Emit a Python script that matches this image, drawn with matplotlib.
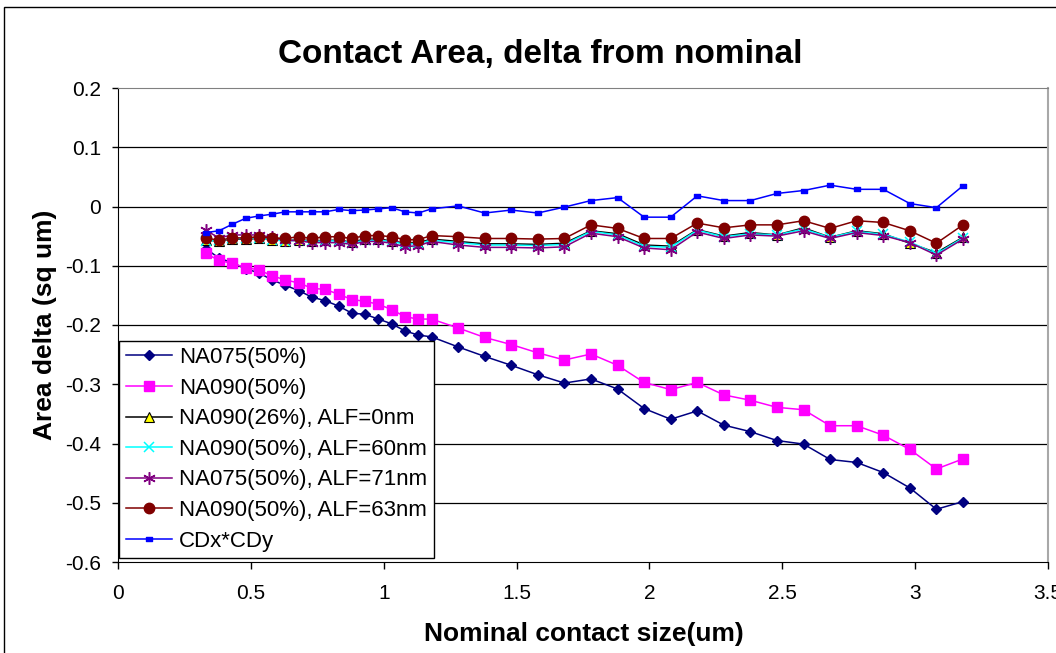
import matplotlib
matplotlib.use("Agg")
import matplotlib.pyplot as plt
from matplotlib.patches import Rectangle
from matplotlib.path import Path

plt.rcParams['font.family'] = ['Liberation Sans', 'DejaVu Sans']
plt.rcParams['axes.unicode_minus'] = False

# ---------------- data ----------------
x_size = [0.33, 0.38, 0.43, 0.48, 0.53, 0.58, 0.63, 0.68, 0.73, 0.78, 0.83, 0.88,
          0.93, 0.98, 1.03, 1.08, 1.13, 1.18, 1.28, 1.38, 1.48, 1.58, 1.68, 1.78,
          1.88, 1.98, 2.08, 2.18, 2.28, 2.38, 2.48, 2.58, 2.68, 2.78, 2.88, 2.98,
          3.08, 3.18]

na075_50 = [-0.071, -0.087, -0.095, -0.105, -0.112, -0.124, -0.133, -0.142, -0.153,
            -0.159, -0.168, -0.180, -0.182, -0.190, -0.198, -0.210, -0.217, -0.220,
            -0.237, -0.253, -0.268, -0.284, -0.298, -0.291, -0.308, -0.341, -0.359,
            -0.345, -0.369, -0.380, -0.395, -0.401, -0.427, -0.432, -0.449, -0.475,
            -0.511, -0.498]

na090_50 = [-0.079, -0.091, -0.096, -0.103, -0.107, -0.117, -0.124, -0.129, -0.138,
            -0.140, -0.148, -0.157, -0.160, -0.165, -0.174, -0.186, -0.190, -0.190,
            -0.205, -0.221, -0.233, -0.247, -0.259, -0.249, -0.268, -0.297, -0.309,
            -0.297, -0.318, -0.327, -0.339, -0.343, -0.370, -0.370, -0.386, -0.410,
            -0.443, -0.426]

na090_26_alf0 = [-0.057, -0.058, -0.055, -0.055, -0.054, -0.056, -0.058, -0.056, -0.058,
                 -0.057, -0.057, -0.060, -0.055, -0.055, -0.058, -0.062, -0.061, -0.055,
                 -0.059, -0.063, -0.063, -0.064, -0.062, -0.041, -0.046, -0.065, -0.067,
                 -0.039, -0.050, -0.044, -0.048, -0.036, -0.052, -0.041, -0.046, -0.062,
                 -0.078, -0.052]

na090_50_alf60 = [-0.059, -0.057, -0.054, -0.054, -0.054, -0.056, -0.058, -0.057, -0.059,
                  -0.058, -0.058, -0.061, -0.057, -0.057, -0.059, -0.064, -0.062, -0.057,
                  -0.061, -0.065, -0.065, -0.066, -0.064, -0.042, -0.048, -0.067, -0.069,
                  -0.040, -0.051, -0.046, -0.048, -0.038, -0.052, -0.042, -0.047, -0.060,
                  -0.080, -0.053]

na075_50_alf71 = [-0.040, -0.053, -0.048, -0.048, -0.048, -0.052, -0.057, -0.058, -0.061,
                  -0.061, -0.061, -0.064, -0.059, -0.059, -0.062, -0.068, -0.066, -0.059,
                  -0.065, -0.069, -0.069, -0.070, -0.068, -0.045, -0.051, -0.070, -0.073,
                  -0.043, -0.054, -0.048, -0.050, -0.041, -0.054, -0.044, -0.049, -0.061,
                  -0.082, -0.055]

na090_50_alf63 = [-0.053, -0.057, -0.053, -0.053, -0.051, -0.053, -0.054, -0.051, -0.054,
                  -0.051, -0.051, -0.054, -0.049, -0.049, -0.051, -0.056, -0.056, -0.049,
                  -0.051, -0.054, -0.054, -0.055, -0.054, -0.031, -0.037, -0.054, -0.054,
                  -0.028, -0.036, -0.031, -0.031, -0.024, -0.037, -0.024, -0.027, -0.041,
                  -0.062, -0.031]

cdx_cdy = [-0.044, -0.041, -0.030, -0.020, -0.016, -0.013, -0.009, -0.009, -0.009,
           -0.009, -0.005, -0.007, -0.006, -0.004, -0.002, -0.009, -0.011, -0.004,
           0.001, -0.011, -0.006, -0.011, -0.001, 0.010, 0.015, -0.018, -0.018,
           0.018, 0.010, 0.010, 0.022, 0.027, 0.036, 0.029, 0.029, 0.005,
           -0.002, 0.035]

series_labels = ['NA075(50%)', 'NA090(50%)', 'NA090(26%), ALF=0nm',
                 'NA090(50%), ALF=60nm', 'NA075(50%), ALF=71nm',
                 'NA090(50%), ALF=63nm', 'CDx*CDy']

x_ticks = [0, 0.5, 1, 1.5, 2, 2.5, 3, 3.5]
x_tick_labels = ['0', '0.5', '1', '1.5', '2', '2.5', '3', '3.5']
y_ticks = [0.2, 0.1, 0, -0.1, -0.2, -0.3, -0.4, -0.5, -0.6]
y_tick_labels = ['0.2', '0.1', '0', '-0.1', '-0.2', '-0.3', '-0.4', '-0.5', '-0.6']

# ---------------- figure ----------------
W, H = 1056, 653
fig = plt.figure(figsize=(W / 100, H / 100), dpi=100)
fig.patch.set_facecolor('white')

# chart-area border (extends past right/bottom edge)
fig.patches.append(Rectangle((4 / W, -0.1), 1.2, 1 - 7 / H + 0.1,
                             transform=fig.transFigure, fill=False,
                             edgecolor='black', lw=1.0))

left, right, top, bottom = 118 / W, 1048 / W, 1 - 88 / H, 1 - 562 / H
ax = fig.add_axes([left, bottom, right - left, top - bottom])

ax.set_xlim(0, 3.5)
ax.set_ylim(-0.6, 0.2)
ax.set_xticks(x_ticks)
ax.set_xticklabels(x_tick_labels)
ax.set_yticks(y_ticks)
ax.set_yticklabels(y_tick_labels)
ax.tick_params(axis='both', direction='out', labelsize=15, color='black', width=1)
ax.tick_params(axis='y', length=4, pad=8)
ax.tick_params(axis='x', length=5, pad=11)

for yv in y_ticks[1:-1]:
    ax.axhline(yv, color='black', lw=0.9, zorder=1)

ax.spines['left'].set_color('black')
ax.spines['bottom'].set_color('black')
ax.spines['top'].set_color('#808080')
ax.spines['right'].set_color('#A8A8A8')
ax.spines['right'].set_linewidth(1.5)

dash = Path([(-1, -0.45), (1, -0.45), (1, 0.45), (-1, 0.45), (-1, -0.45)],
            [Path.MOVETO, Path.LINETO, Path.LINETO, Path.LINETO, Path.CLOSEPOLY])

lw = 1.1
ax.plot(x_size, na075_50, color='#000080', marker='D', ms=5.5, mec='#000080',
        mfc='#000080', lw=lw, label=series_labels[0], zorder=3)
ax.plot(x_size, na090_50, color='#FF00FF', marker='s', ms=7, mec='#FF00FF',
        mfc='#FF00FF', lw=lw, label=series_labels[1], zorder=3)
ax.plot(x_size, na090_26_alf0, color='black', marker='^', ms=6.5, mec='black',
        mfc='#FFFF00', mew=0.8, lw=lw, label=series_labels[2], zorder=4)
ax.plot(x_size, na090_50_alf60, color='#00FFFF', marker='x', ms=7, mec='#00FFFF',
        mew=1.1, lw=lw, label=series_labels[3], zorder=5)
ax.plot(x_size, na075_50_alf71, color='#800080', marker=(6, 2, 0), ms=9,
        mec='#800080', mew=1.1, lw=lw, label=series_labels[4], zorder=6)
ax.plot(x_size, na090_50_alf63, color='#800000', marker='o', ms=7.5, mec='#800000',
        mfc='#800000', lw=lw, label=series_labels[5], zorder=7)
ax.plot(x_size, cdx_cdy, color='#0000FF', marker=dash, ms=5, mec='#0000FF',
        mfc='#0000FF', lw=lw, label=series_labels[6], zorder=8)

leg = ax.legend(loc='lower left', bbox_to_anchor=(0.001, 0.008), borderaxespad=0,
                fontsize=16, frameon=True, fancybox=False, framealpha=1,
                edgecolor='black', borderpad=0.3, labelspacing=0.43,
                handlelength=2.1, handletextpad=0.3)
leg.get_frame().set_linewidth(1.0)
leg.set_zorder(10)

fig.text(540 / W, 1 - 54 / H, 'Contact Area, delta from nominal', ha='center',
         va='center', fontsize=24, fontweight='bold')
fig.text(584 / W, 1 - 634 / H, 'Nominal contact size(um)', ha='center',
         va='center', fontsize=19, fontweight='bold')
fig.text(45 / W, 1 - 325 / H, 'Area delta (sq um)', ha='center', va='center',
         rotation=90, fontsize=19, fontweight='bold')

fig.savefig('out.png', dpi=100)
